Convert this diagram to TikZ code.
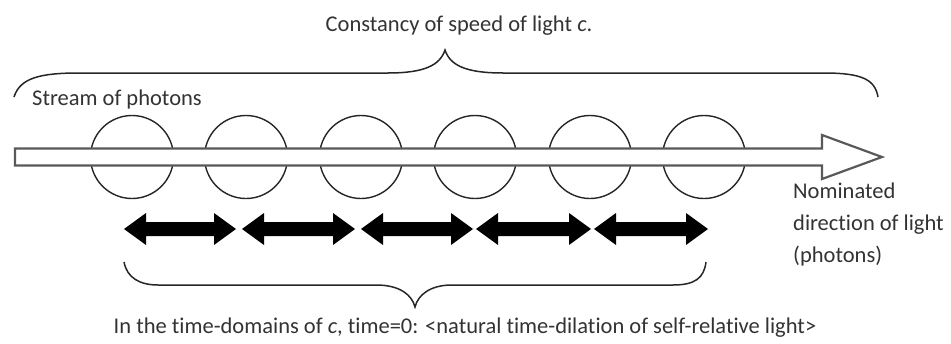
\documentclass[tikz,border=0pt]{standalone}
\usepackage{fontspec}
\setmainfont{Carlito}[Ligatures={NoCommon}]
\usetikzlibrary{calc}
\begin{document}
\begin{tikzpicture}[x=1pt,y=-1pt,
  lbl/.style={inner sep=0pt, text=black!80, font=\fontsize{22.5}{27}\selectfont},
  photon/.style={circle, draw=black!85, line width=1.4pt, minimum size=83pt, inner sep=0pt},
  brace/.style={draw=black!85, line width=1.5pt},
  mainarrow/.style={draw=black!65, line width=2.2pt, fill=white, line join=miter},
  dblarrow/.style={fill=black}]
\useasboundingbox (0,0) rectangle (951,343);
% photons
\foreach \i/\cx in {1/132,2/246,3/361,4/475,5/590,6/704}
  \node[photon] (p\i) at (\cx,157) {};
% main arrow
\coordinate (tail) at (15,157);
\coordinate (tip) at (882,157);
\draw[mainarrow] (tail) ++(0,-8.5) -- (822,148.5) -- (822,135) -- (tip) -- (822,179) -- (822,165.5) -- (15,165.5) -- cycle;
% double arrows
\foreach \i/\a/\b in {1/124/236,2/242/355,3/361/473,4/476/591,5/594/708}{
  \coordinate (dl\i) at (\a,229);
  \coordinate (dr\i) at (\b,229);
  \fill[dblarrow] (dl\i) -- ++(22,-16) -- ++(0,9) -- ($(dr\i)+(-22,-7)$) -- ++(0,-9) -- (dr\i) -- ++(-22,16) -- ++(0,-9) -- ($(dl\i)+(22,7)$) -- ++(0,9) -- cycle;
}
% top brace
\coordinate (tb1) at (14,97);
\coordinate (tbtip) at (445,50);
\coordinate (tb2) at (878,97);
\draw[brace] (tb1) .. controls (20,78) and (40,73) .. (79,73) -- (388,73) .. controls (425,73) and (440,65) .. (tbtip) .. controls (450,65) and (465,73) .. (503,73) -- (824,73) .. controls (863,73) and (875,80) .. (tb2);
% bottom brace
\coordinate (bb1) at (124,262);
\coordinate (bbtip) at (415,307);
\coordinate (bb2) at (706,262);
\draw[brace] (bb1) .. controls (127,278) and (140,285) .. (158,285) -- (376,285) .. controls (400,285) and (412,295) .. (bbtip) .. controls (418,295) and (430,285) .. (452,285) -- (673,285) .. controls (695,285) and (704,278) .. (bb2);
% labels
\node[lbl, anchor=base] (top) at (459,31) {Constancy of speed of light \textit{c}.};
\node[lbl, anchor=base west] (stream) at (32,105) {Stream of photons};
\node[lbl, anchor=base west] (nom1) at (793,198) {Nominated};
\node[lbl, anchor=base west] (nom2) at (793,230) {direction of light};
\node[lbl, anchor=base west] (nom3) at (793,262) {(photons)};
\node[lbl, anchor=base] (bottom) at (465,333) {In the time-domains of \textit{c}, time=0: <natural time-dilation of self-relative light>};
\end{tikzpicture}
\end{document}
